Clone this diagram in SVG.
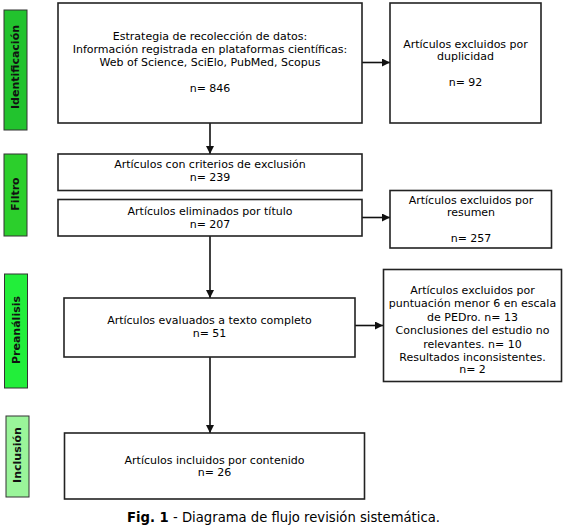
<svg xmlns="http://www.w3.org/2000/svg" width="565" height="526" viewBox="0 0 565 526">
<style>
.box{fill:#fff;stroke:#222;stroke-width:1.6}
.lab{stroke:#333;stroke-width:1}
.t{font-family:"DejaVu Sans",Verdana,sans-serif;font-size:11px;fill:#000;text-anchor:middle;dominant-baseline:central}
.s{font-family:"DejaVu Sans",Verdana,sans-serif;font-size:11px;font-weight:bold;fill:#111;text-anchor:middle;dominant-baseline:central}
.c{stroke:#111;stroke-width:1.6;fill:none;marker-end:url(#ah)}
</style>
<defs>
<marker id="ah" viewBox="0 0 10 10" refX="10" refY="5" markerWidth="5" markerHeight="5" orient="auto" markerUnits="strokeWidth">
<path d="M0,0 L10,5 L0,10 z" fill="#111"/>
</marker>
</defs>
<rect width="565" height="526" fill="#fff"/>
<g id="lbl-identificacion"><rect class="lab" x="4" y="10" width="23" height="120" fill="#22c32e"/><text class="s" transform="translate(15.5,67) rotate(-90)">Identificación</text></g>
<g id="lbl-filtro"><rect class="lab" x="4" y="154" width="23" height="82" fill="#2ccf2c"/><text class="s" transform="translate(15.5,194) rotate(-90)">Filtro</text></g>
<g id="lbl-preanalisis"><rect class="lab" x="4.5" y="274" width="23" height="114" fill="#22ee3a"/><text class="s" transform="translate(16,330) rotate(-90)">Preanálisis</text></g>
<g id="lbl-inclusion"><rect class="lab" x="6" y="416" width="23" height="81" fill="#9af59a"/><text class="s" transform="translate(17.5,455) rotate(-90)">Inclusión</text></g>

<g id="connectors">
<line class="c" x1="362" y1="62.5" x2="390" y2="62.5"/>
<line class="c" x1="210" y1="123" x2="210" y2="154"/>
<line class="c" x1="362" y1="217.5" x2="390" y2="217.5"/>
<line class="c" x1="210" y1="236" x2="210" y2="298"/>
<line class="c" x1="355" y1="325.5" x2="383" y2="325.5"/>
<line class="c" x1="210" y1="357" x2="210" y2="433"/>
</g>

<g id="n1"><rect class="box" x="58" y="3" width="304" height="120"/>
<text class="t" x="210" y="36">Estrategia de recolección de datos:</text>
<text class="t" x="210" y="49">Información registrada en plataformas científicas:</text>
<text class="t" x="210" y="62">Web of Science, SciElo, PubMed, Scopus</text>
<text class="t" x="210" y="88.5">n= 846</text></g>
<g id="n2"><rect class="box" x="390" y="3" width="151" height="120"/>
<text class="t" x="465.5" y="44">Artículos excluidos por</text>
<text class="t" x="465.5" y="56">duplicidad</text>
<text class="t" x="465.5" y="82">n= 92</text></g>
<g id="n3"><rect class="box" x="58" y="154" width="304" height="36.5"/>
<text class="t" x="210" y="164.5">Artículos con criterios de exclusión</text>
<text class="t" x="210" y="177">n= 239</text></g>
<g id="n4"><rect class="box" x="58" y="199.5" width="304" height="36.5"/>
<text class="t" x="210" y="211">Artículos eliminados por título</text>
<text class="t" x="210" y="224">n= 207</text></g>
<g id="n5"><rect class="box" x="390" y="190.5" width="161.5" height="57.5"/>
<text class="t" x="471" y="200">Artículos excluidos por</text>
<text class="t" x="471" y="212">resumen</text>
<text class="t" x="471" y="238">n= 257</text></g>
<g id="n6"><rect class="box" x="64" y="298" width="291" height="59"/>
<text class="t" x="209.5" y="320.5">Artículos evaluados a texto completo</text>
<text class="t" x="209.5" y="333">n= 51</text></g>
<g id="n7"><rect class="box" x="383.5" y="269.5" width="178" height="112"/>
<text class="t" x="472.5" y="290">Artículos excluidos por</text>
<text class="t" x="472.5" y="303.5">puntuación menor 6 en escala</text>
<text class="t" x="472.5" y="317">de PEDro. n= 13</text>
<text class="t" x="472.5" y="330.5">Conclusiones del estudio no</text>
<text class="t" x="472.5" y="344">relevantes. n= 10</text>
<text class="t" x="472.5" y="357">Resultados inconsistentes.</text>
<text class="t" x="472.5" y="369">n= 2</text></g>
<g id="n8"><rect class="box" x="64.5" y="433" width="300" height="66"/>
<text class="t" x="214.5" y="460">Artículos incluidos por contenido</text>
<text class="t" x="214.5" y="472.5">n= 26</text></g>
<text x="283.5" y="517" font-family="DejaVu Sans,Verdana,sans-serif" font-size="13.2" text-anchor="middle" dominant-baseline="central" fill="#000"><tspan font-weight="bold">Fig. 1</tspan> - Diagrama de flujo revisión sistemática.</text>
</svg>
